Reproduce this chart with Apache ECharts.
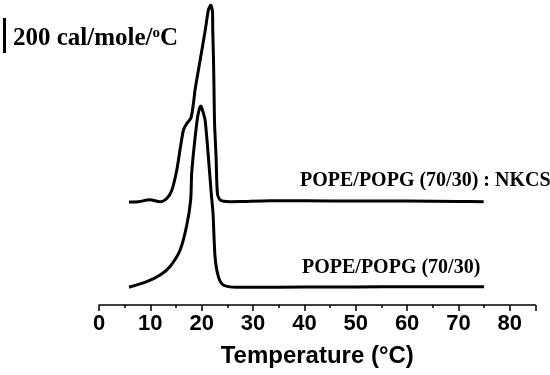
<!DOCTYPE html>
<html>
<head>
<meta charset="utf-8">
<script src="https://cdn.jsdelivr.net/npm/echarts@6/dist/echarts.min.js"></script>
<style>
html,body{margin:0;padding:0;background:#fff;}
#chart{width:550px;height:375px;}
</style>
</head>
<body>
<div id="chart"></div>
<script>
// Temperature (°C) and heat capacity (arbitrary offset units)
var nkcsCurve = [
  [5.85,103],[7.7,103.3],[9.9,105.2],[11.9,103.3],[13.2,106.5],[14.2,115],
  [15.15,135],[15.8,156],[16.45,175],[17.1,181.5],[17.9,187],[18.4,202],
  [18.7,215],[19.7,245],[20.7,275],[21.3,295],[21.77,300],[22.1,293],
  [22.15,275],[22.3,245],[22.4,215],[22.5,182],[22.8,148],[23.05,112],
  [23.6,105],[25.5,103.3],[27.5,103.4],[33.3,104.3],[40,104.2],[50,104],
  [60,104],[70,103.5],[74.9,103.3]
];
var controlCurve = [
  [5.85,17.7],[9.3,23.3],[11.9,30],[13.8,38.3],[15.8,55],[17.1,80],
  [17.85,105],[18.05,132],[18.6,162],[19.2,188],[19.6,197],[19.84,199],
  [20.2,194],[20.66,185],[21.3,148],[21.85,112],[22.2,92],[22.6,48],
  [23.25,28.3],[24.2,20],[26.8,17.8],[35,17.8],[45,18],[55,18.2],[65,18.3],[75,18.3]
];
var nkcsLabel = 'POPE/POPG (70/30) : NKCS';
var controlLabel = 'POPE/POPG (70/30)';
var xTitle = 'Temperature (°C)';

var chart = echarts.init(document.getElementById('chart'));
var serif = '"Liberation Serif","Times New Roman",serif';
var sans = '"Liberation Sans",Arial,sans-serif';
chart.setOption({
  animation: false,
  backgroundColor: '#fff',
  grid: {left: 99, right: 14.5, top: 5, bottom: 70, containLabel: false},
  xAxis: {
    type: 'value', min: 0, max: 85, interval: 10,
    name: xTitle, nameLocation: 'middle', nameGap: 39,
    nameTextStyle: {fontFamily: sans, fontWeight: 'bold', fontSize: 24, color: '#000'},
    axisLine: {show: true, lineStyle: {color: '#000', width: 1.5}},
    axisTick: {show: true, length: 6, lineStyle: {color: '#000', width: 1.5}},
    minorTick: {show: true, splitNumber: 2, length: 3, lineStyle: {color: '#000', width: 1.5}},
    axisLabel: {fontFamily: sans, fontWeight: 'bold', fontSize: 22, color: '#000', margin: 8,
      formatter: function (v) { return v > 80 ? '' : String(v); }},
    splitLine: {show: false}
  },
  yAxis: {type: 'value', min: 0, max: 300, show: false},
  series: [
    {type: 'line', data: nkcsCurve, showSymbol: false, smooth: 0.25,
     lineStyle: {color: '#000', width: 3}},
    {type: 'line', data: controlCurve, showSymbol: false, smooth: 0.25,
     lineStyle: {color: '#000', width: 3}}
  ],
  graphic: [
    {type: 'line', shape: {x1: 4.5, y1: 18, x2: 4.5, y2: 53}, style: {stroke: '#000', lineWidth: 3}},
    {type: 'text', left: 13, top: 26, style: {
      text: '200 cal/mole/{s|o}C', font: 'bold 25px ' + serif, fill: '#000',
      rich: {s: {fontSize: 15, fontWeight: 'bold', fontFamily: serif, verticalAlign: 'top', padding: [0,0,10,0]}}
    }},
    {type: 'text', x: 300, y: 181, style: {text: nkcsLabel, font: 'bold 20px ' + serif, fill: '#000', textVerticalAlign: 'middle'}},
    {type: 'text', x: 302, y: 267.5, style: {text: controlLabel, font: 'bold 20px ' + serif, fill: '#000', textVerticalAlign: 'middle'}}
  ]
});
</script>
</body>
</html>
